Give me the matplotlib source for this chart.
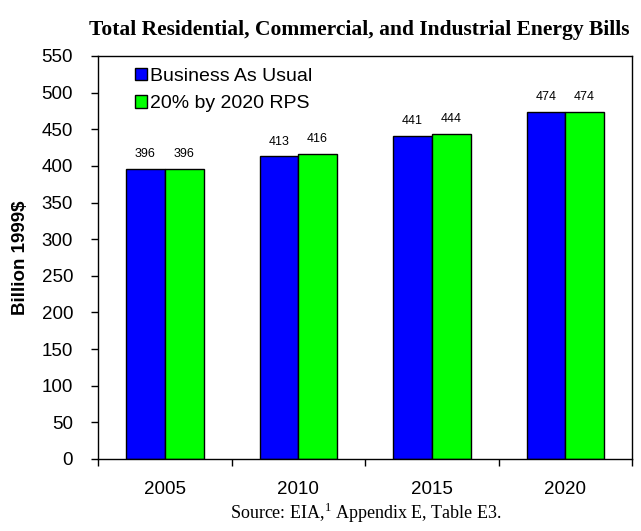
import matplotlib.pyplot as plt
import numpy as np

YEARS = ["2005", "2010", "2015", "2020"]
BAU = [396, 413, 441, 474]
RPS = [396, 416, 444, 474]
SERIES = ["Business As Usual", "20% by 2020 RPS"]

plt.rcParams["font.family"] = "Liberation Sans"
plt.rcParams["mathtext.fontset"] = "custom"
plt.rcParams["mathtext.rm"] = "Liberation Serif"

fig = plt.figure(figsize=(6.41, 5.31), dpi=100)
ax = fig.add_axes([0.153, 0.1356, 0.833, 0.759])

x = np.arange(len(YEARS))
w = 0.29
b1 = ax.bar(x - w / 2, BAU, width=w, color="#0000ff", edgecolor="black",
            linewidth=1.0, label=SERIES[0])
b2 = ax.bar(x + w / 2, RPS, width=w, color="#00ff00", edgecolor="black",
            linewidth=1.0, label=SERIES[1])

for bars, vals in ((b1, BAU), (b2, RPS)):
    for r, v in zip(bars, vals):
        ax.text(r.get_x() + r.get_width() / 2, v + 12, f"{v}",
                ha="center", va="bottom", fontsize=9)

ax.set_xlim(-0.5, len(YEARS) - 0.5)
ax.set_ylim(0, 550)
ax.set_yticks(np.arange(0, 551, 50))
ax.tick_params(axis="y", labelsize=13.5, direction="out", length=5, width=1, pad=13)
ax.set_xticks(x)
ax.set_xticklabels(YEARS, fontsize=13.5)
ax.tick_params(axis="x", which="major", length=0, pad=16)
ax.set_xticks(np.arange(-0.5, len(YEARS), 1.0), minor=True)
ax.tick_params(axis="x", which="minor", length=5, width=1, direction="out")
for s in ax.spines.values():
    s.set_linewidth(1.0)

ax.set_ylabel("Billion 1999$", fontsize=13.5, fontweight="bold")
ax.yaxis.set_label_coords(-0.13, 0.5)

leg = ax.legend(loc="upper left", bbox_to_anchor=(0.044, 1.005), frameon=False,
                fontsize=14, handlelength=0.6, handleheight=0.6,
                handletextpad=0.15, labelspacing=0.55, borderaxespad=0.3)

fig.text(0.56, 0.9435, "Total Residential, Commercial, and Industrial Energy Bills",
         ha="center", va="center", fontsize=15.5, fontweight="bold",
         family="Liberation Serif")
fig.text(0.57, 0.034, "Source: EIA,$^{1}$ Appendix E, Table E3.",
         ha="center", va="center", fontsize=13, family="Liberation Serif")

fig.savefig("out.png", dpi=100)
